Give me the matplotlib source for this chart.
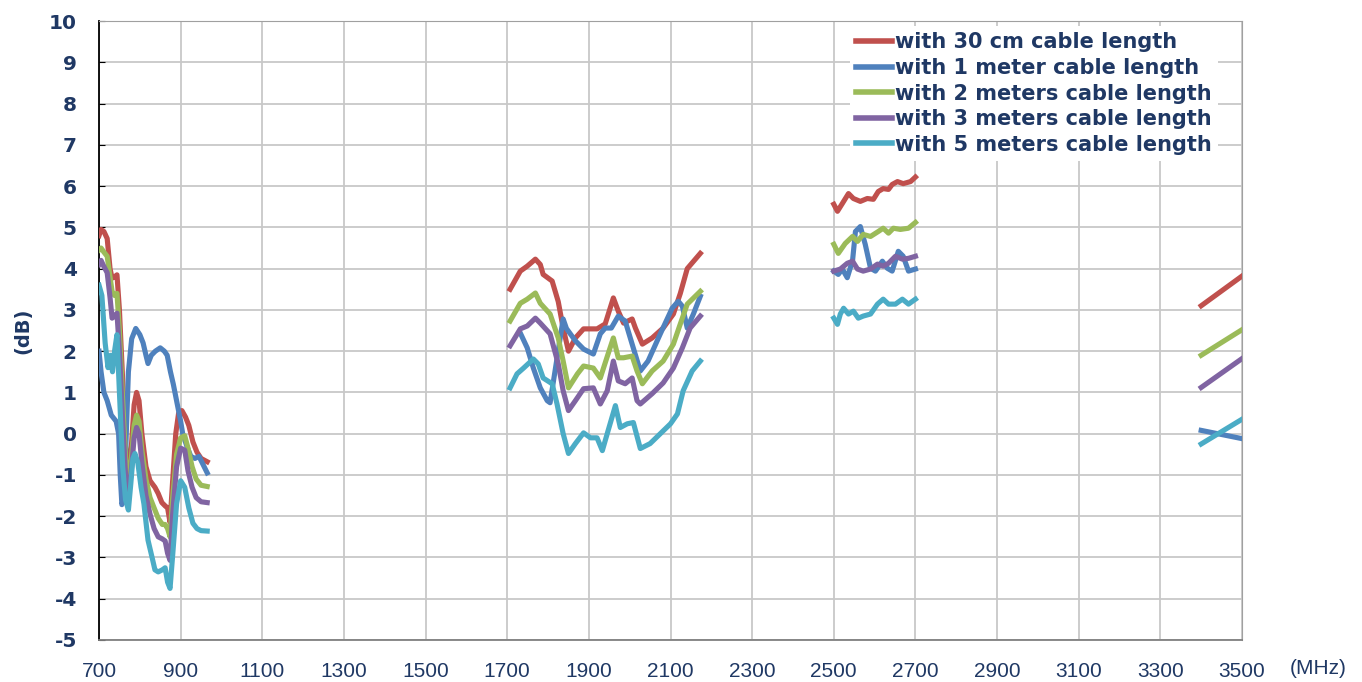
import matplotlib.pyplot as plt

plt.rcParams['axes.unicode_minus'] = False

# measured gain vs frequency, four bands, five cable lengths
labels = ['with 30 cm cable length', 'with 1 meter cable length',
          'with 2 meters cable length', 'with 3 meters cable length',
          'with 5 meters cable length']
colors = ['#C0504D', '#4F81BD', '#9BBB59', '#8064A2', '#4BACC6']

# 700-960 MHz band
f_30cm_700 = [700, 705, 712, 720, 727, 732, 738, 744, 750, 757, 765, 773, 780, 786, 792, 798, 805, 815,
              825, 837, 845, 854, 862, 868, 874, 880, 888, 895, 903, 912, 920, 930, 940, 950, 965]
db_30cm_700 = [4.80, 4.95, 4.90, 4.73, 4.0, 3.77, 3.80, 3.85, 3.0, 1.5, -0.3, -1.0, -0.2, 0.7, 1.0, 0.8, 0.0, -0.8,
               -1.14, -1.3, -1.45, -1.67, -1.75, -1.8, -2.15, -1.2, 0.0, 0.5, 0.56, 0.4, 0.2, -0.2, -0.45, -0.6, -0.68]
f_1m_700 = [700, 705, 712, 720, 730, 742, 748, 752, 756, 760, 765, 772, 780, 790, 800, 808, 815, 820,
            828, 838, 850, 860, 867, 875, 882, 890, 900, 905, 915, 925, 935, 945, 955, 965]
db_1m_700 = [2.0, 1.5, 1.0, 0.8, 0.45, 0.3, 0.0, -1.0, -1.72, -1.6, -0.5, 1.5, 2.3, 2.55, 2.4, 2.2, 1.9, 1.7,
             1.9, 2.0, 2.08, 2.0, 1.9, 1.5, 1.2, 0.8, 0.3, 0.0, -0.3, -0.55, -0.6, -0.55, -0.75, -0.95]
f_2m_700 = [700, 705, 712, 720, 727, 732, 738, 744, 750, 757, 765, 773, 780, 786, 792, 798, 805,
            815, 825, 835, 845, 855, 862, 868, 874, 880, 890, 900, 910, 918, 928, 938, 950, 965]
db_2m_700 = [4.45, 4.5, 4.4, 4.3, 3.8, 3.45, 3.35, 3.4, 2.5, 1.0, -0.6, -1.2, -0.5, 0.2, 0.45, 0.3, -0.4,
             -1.1, -1.55, -1.8, -2.05, -2.2, -2.2, -2.3, -2.5, -1.6, -0.5, -0.1, -0.05, -0.35, -0.8, -1.1, -1.25, -1.28]
f_3m_700 = f_2m_700
db_3m_700 = [4.1, 4.2, 4.05, 3.9, 3.3, 2.8, 2.85, 2.92, 2.0, 0.5, -1.0, -1.5, -0.8, -0.1, 0.15, 0.0, -0.7,
             -1.5, -1.95, -2.3, -2.5, -2.55, -2.6, -2.9, -3.07, -2.0, -0.8, -0.35, -0.4, -0.9, -1.3, -1.55, -1.65, -1.67]
f_5m_700 = [700, 707, 715, 722, 728, 733, 738, 744, 750, 758, 765, 772, 778, 783, 788, 795, 803, 810,
            820, 830, 837, 845, 855, 862, 868, 874, 880, 890, 900, 910, 920, 930, 940, 950, 965]
db_5m_700 = [3.6, 3.35, 2.2, 1.6, 1.9, 1.5, 2.0, 2.4, 1.0, -0.8, -1.6, -1.85, -1.2, -0.6, -0.48, -0.7, -1.3, -1.7,
             -2.58, -3.0, -3.3, -3.35, -3.3, -3.25, -3.6, -3.75, -3.0, -1.7, -1.14, -1.3, -1.8, -2.17, -2.3, -2.35, -2.36]

# 1700-2170 MHz band
f_30cm_1700 = [1707, 1732, 1749, 1769, 1781, 1788, 1810, 1825, 1837, 1850, 1867, 1887, 1920,
               1940, 1960, 1972, 1985, 2006, 2014, 2031, 2055, 2082, 2107, 2124, 2141, 2173]
db_30cm_1700 = [3.50, 3.94, 4.06, 4.23, 4.10, 3.86, 3.70, 3.20, 2.56, 2.00, 2.32, 2.54, 2.54,
                2.66, 3.29, 2.97, 2.68, 2.78, 2.56, 2.17, 2.32, 2.56, 2.90, 3.40, 4.00, 4.37]
f_1m_1700 = [1732, 1749, 1764, 1781, 1798, 1805, 1837, 1845, 1867, 1887, 1911, 1928, 1940,
             1955, 1972, 1989, 2006, 2026, 2045, 2075, 2104, 2119, 2129, 2141, 2156, 2173]
db_1m_1700 = [2.44, 2.08, 1.59, 1.11, 0.80, 0.75, 2.78, 2.55, 2.25, 2.05, 1.93, 2.42, 2.56,
              2.56, 2.85, 2.73, 2.17, 1.52, 1.76, 2.42, 3.04, 3.21, 3.09, 2.56, 2.90, 3.33]
f_2m_1700 = [1707, 1732, 1749, 1769, 1781, 1805, 1825, 1837, 1850, 1872, 1887, 1911, 1928,
             1947, 1960, 1972, 1985, 2006, 2018, 2031, 2055, 2082, 2107, 2124, 2141, 2173]
db_2m_1700 = [2.73, 3.16, 3.26, 3.41, 3.16, 2.90, 2.32, 1.76, 1.11, 1.45, 1.64, 1.59, 1.35,
              1.93, 2.32, 1.84, 1.84, 1.88, 1.52, 1.21, 1.52, 1.76, 2.17, 2.66, 3.14, 3.45]
f_3m_1700 = [1707, 1732, 1749, 1769, 1781, 1805, 1825, 1837, 1850, 1867, 1887, 1911, 1928,
             1945, 1960, 1972, 1989, 2006, 2018, 2026, 2055, 2082, 2107, 2129, 2148, 2173]
db_3m_1700 = [2.13, 2.54, 2.61, 2.80, 2.68, 2.42, 1.69, 1.04, 0.56, 0.80, 1.09, 1.11, 0.72,
              1.04, 1.76, 1.28, 1.21, 1.35, 0.80, 0.72, 0.97, 1.23, 1.59, 2.08, 2.56, 2.85]
f_5m_1700 = [1707, 1724, 1740, 1764, 1776, 1788, 1810, 1822, 1837, 1850, 1867, 1887, 1904, 1920,
             1933, 1947, 1965, 1977, 1994, 2009, 2026, 2050, 2075, 2100, 2117, 2131, 2153, 2173]
db_5m_1700 = [1.11, 1.45, 1.59, 1.81, 1.69, 1.35, 1.21, 0.72, 0.00, -0.48, -0.24, 0.02, -0.10, -0.10,
              -0.41, 0.07, 0.68, 0.15, 0.24, 0.27, -0.36, -0.24, 0.00, 0.24, 0.48, 1.04, 1.52, 1.76]

# 2500-2700 MHz band
f_30cm_2500 = [2500, 2509, 2521, 2536, 2548, 2565, 2582, 2597, 2609, 2621, 2634, 2643, 2656, 2670, 2688, 2700]
db_30cm_2500 = [5.56, 5.39, 5.58, 5.82, 5.70, 5.63, 5.70, 5.68, 5.87, 5.94, 5.92, 6.04, 6.11, 6.06, 6.11, 6.22]
f_1m_2500 = [2500, 2511, 2521, 2533, 2546, 2553, 2565, 2577, 2590, 2602, 2619, 2631, 2643, 2658, 2670, 2683, 2700]
db_1m_2500 = [3.94, 3.86, 3.99, 3.78, 4.20, 4.90, 5.02, 4.59, 4.01, 3.94, 4.18, 4.01, 3.94, 4.42, 4.30, 3.94, 3.99]
f_2m_2500 = [2500, 2511, 2528, 2546, 2558, 2572, 2590, 2609, 2621, 2634, 2646, 2663, 2683, 2700]
db_2m_2500 = [4.59, 4.37, 4.61, 4.78, 4.66, 4.83, 4.78, 4.90, 4.98, 4.86, 4.98, 4.95, 4.98, 5.12]
f_3m_2500 = [2500, 2516, 2533, 2546, 2558, 2572, 2590, 2607, 2621, 2634, 2651, 2668, 2683, 2700]
db_3m_2500 = [3.94, 3.99, 4.13, 4.18, 3.99, 3.94, 3.99, 4.11, 4.06, 4.13, 4.30, 4.23, 4.25, 4.30]
f_5m_2500 = [2500, 2509, 2516, 2524, 2536, 2548, 2560, 2572, 2590, 2607, 2621, 2634, 2651, 2668, 2683, 2700]
db_5m_2500 = [2.80, 2.65, 2.90, 3.04, 2.90, 2.97, 2.80, 2.85, 2.90, 3.14, 3.26, 3.14, 3.14, 3.26, 3.14, 3.26]

# 3400-3500 MHz band
f_3400 = [3400, 3500]
db_30cm_3400 = [3.10, 3.82]
db_1m_3400 = [0.08, -0.12]
db_2m_3400 = [1.90, 2.52]
db_3m_3400 = [1.12, 1.82]
db_5m_3400 = [-0.25, 0.35]

bands = [
    [(f_30cm_700, db_30cm_700), (f_30cm_1700, db_30cm_1700), (f_30cm_2500, db_30cm_2500), (f_3400, db_30cm_3400)],
    [(f_1m_700, db_1m_700), (f_1m_1700, db_1m_1700), (f_1m_2500, db_1m_2500), (f_3400, db_1m_3400)],
    [(f_2m_700, db_2m_700), (f_2m_1700, db_2m_1700), (f_2m_2500, db_2m_2500), (f_3400, db_2m_3400)],
    [(f_3m_700, db_3m_700), (f_3m_1700, db_3m_1700), (f_3m_2500, db_3m_2500), (f_3400, db_3m_3400)],
    [(f_5m_700, db_5m_700), (f_5m_1700, db_5m_1700), (f_5m_2500, db_5m_2500), (f_3400, db_5m_3400)],
]

text_color = '#1F3864'

fig = plt.figure(figsize=(13.62, 6.82), dpi=100)
ax = fig.add_axes([0.0727, 0.0616, 0.8392, 0.9075])

for i in range(len(labels)):
    for j, (f, db) in enumerate(bands[i]):
        ax.plot(f, db, color=colors[i], lw=3.7, solid_joinstyle='round',
                label=labels[i] if j == 0 else None, zorder=3)

ax.set_xlim(700, 3500)
ax.set_ylim(-5, 10)
ax.set_xticks(range(700, 3501, 200))
ax.set_yticks(range(-5, 11))
ax.grid(True, color='#C8C8C8', lw=1.3)
ax.set_axisbelow(True)

ax.spines['left'].set_color('black')
ax.spines['left'].set_linewidth(1.3)
ax.spines['bottom'].set_color('#808080')
ax.spines['bottom'].set_linewidth(1.3)
ax.spines['right'].set_color('#A0A0A0')
ax.spines['top'].set_color('#A0A0A0')

ax.tick_params(axis='x', length=0, pad=16, labelsize=15, labelcolor=text_color)
ax.tick_params(axis='y', direction='in', length=4, color='black', pad=16, labelcolor=text_color)
for t in ax.get_xticklabels():
    t.set_fontfamily('Liberation Sans')
for t in ax.get_yticklabels():
    t.set_fontfamily('DejaVu Sans')
    t.set_fontweight('bold')
    t.set_fontsize(14.5)

ax.set_ylabel('(dB)', fontsize=14, fontweight='bold', color=text_color, family='DejaVu Sans', labelpad=12)
fig.text(1318 / 1362, 1 - 669 / 682, '(MHz)', fontsize=15, family='Liberation Sans',
         color=text_color, ha='center', va='center')

leg = ax.legend(loc='upper left', bbox_to_anchor=(850 / 1362, 1 - 26 / 682),
                bbox_transform=fig.transFigure, frameon=True, framealpha=1,
                edgecolor='none', facecolor='white', fancybox=False,
                handlelength=1.7, handletextpad=0.15, labelspacing=0.27,
                borderpad=0.3, borderaxespad=0,
                prop={'family': 'DejaVu Sans', 'weight': 'bold', 'size': 15})
for t in leg.get_texts():
    t.set_color(text_color)
for line in leg.get_lines():
    line.set_linewidth(4)

plt.savefig('out.png', dpi=100)
